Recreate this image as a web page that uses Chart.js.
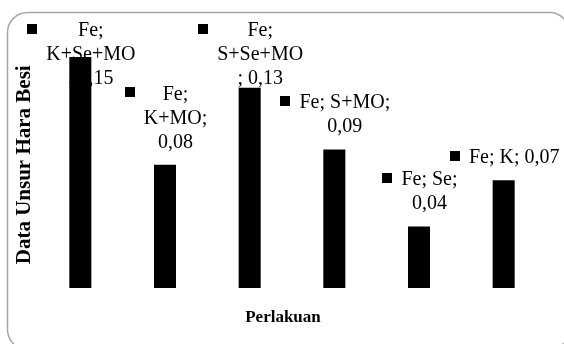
<!DOCTYPE html>
<html>
<head>
<meta charset="utf-8">
<script src="https://cdn.jsdelivr.net/npm/chart.js@4.4.1/dist/chart.umd.min.js"></script>
<style>
  html, body { margin: 0; padding: 0; background: #ffffff; }
  #wrap { width: 564px; height: 344px; }
</style>
</head>
<body>
<div id="wrap"><canvas id="chart" width="564" height="344"></canvas></div>
<script>
// Iron (Fe) nutrient content per treatment
const seriesName = 'Fe';
const treatments = ['K+Se+MO', 'K+MO', 'S+Se+MO', 'S+MO', 'Se', 'K'];
const feValues = [0.15, 0.08, 0.13, 0.09, 0.04, 0.07];
const yAxisTitle = 'Data Unsur Hara Besi';
const xAxisTitle = 'Perlakuan';

const SERIF = '"Liberation Serif", "Times New Roman", serif';
const LABEL_FONT = '20px ' + SERIF;
const LABEL_MAX_WIDTH = 91.1;
const LINE_H = 24;

function fmt(v) { return v.toFixed(2).replace('.', ','); }

// Greedy wrap: words first, overlong words split at the last character that still fits
function wrapText(ctx, text, maxW) {
  const words = text.split(' ');
  const lines = [];
  let cur = '';
  for (let i = 0; i < words.length; i++) {
    let w = words[i];
    const trial = cur ? cur + ' ' + w : w;
    if (ctx.measureText(trial).width <= maxW) { cur = trial; continue; }
    if (cur) { lines.push(cur); cur = ''; }
    while (ctx.measureText(w).width > maxW) {
      let k = w.length - 1;
      while (k > 1 && ctx.measureText(w.slice(0, k)).width > maxW) k--;
      lines.push(w.slice(0, k));
      w = w.slice(k);
    }
    cur = w;
  }
  if (cur) lines.push(cur);
  return lines;
}

// Data labels with a legend key square; drawn before the bars so bars sit on top
const keyLabels = {
  id: 'keyLabels',
  beforeDatasetsDraw(chart) {
    const ctx = chart.ctx;
    const meta = chart.getDatasetMeta(0);
    ctx.save();
    ctx.font = LABEL_FONT;
    ctx.fillStyle = '#000';
    ctx.textBaseline = 'middle';
    ctx.textAlign = 'center';
    meta.data.forEach((bar, i) => {
      const text = seriesName + '; ' + treatments[i] + '; ' + fmt(feValues[i]);
      const lines = wrapText(ctx, text, LABEL_MAX_WIDTH);
      const tw = Math.max(...lines.map(l => ctx.measureText(l).width));
      const sq = 10, gap = 9;
      const blockW = sq + gap + tw;
      const left = bar.x + 1 - blockW / 2;
      const textCx = left + sq + gap + tw / 2;
      let lastMid = bar.y - 22.5;
      let firstMid = lastMid - (lines.length - 1) * LINE_H;
      if (firstMid < 31) firstMid = 31;
      ctx.fillRect(Math.round(left), Math.round(firstMid - 2 - sq / 2), sq, sq);
      lines.forEach((l, j) => ctx.fillText(l, textCx, firstMid + j * LINE_H));
    });
    ctx.restore();
  }
};

// Category-axis title centred on the whole chart, plus the rounded frame
const frame = {
  id: 'frame',
  afterDraw(chart) {
    const ctx = chart.ctx;
    ctx.save();
    ctx.fillStyle = '#000';
    ctx.font = 'bold 17px ' + SERIF;
    ctx.textAlign = 'center';
    ctx.textBaseline = 'middle';
    ctx.fillText(xAxisTitle, chart.width / 2 + 1, 318);
    ctx.strokeStyle = '#a6a6a6';
    ctx.lineWidth = 1.5;
    ctx.beginPath();
    ctx.roundRect(7.5, 12.5, 562, 337, 20);
    ctx.stroke();
    ctx.restore();
  }
};

new Chart(document.getElementById('chart'), {
  type: 'bar',
  data: {
    labels: treatments,
    datasets: [{
      label: seriesName,
      data: feValues,
      backgroundColor: '#000000',
      borderWidth: 0,
      barPercentage: 0.26,
      categoryPercentage: 1.0
    }]
  },
  options: {
    responsive: false,
    devicePixelRatio: 1,
    animation: false,
    layout: { padding: { left: 8, right: 18, top: 41.6, bottom: 56 } },
    plugins: { legend: { display: false }, tooltip: { enabled: false } },
    scales: {
      x: {
        grid: { display: false, drawTicks: false },
        border: { display: false },
        ticks: { display: false },
        title: { display: false }
      },
      y: {
        min: 0, max: 0.16,
        grid: { display: false, drawTicks: false },
        border: { display: false },
        ticks: { display: false },
        title: {
          display: true, text: yAxisTitle, color: '#000',
          font: { family: SERIF, size: 21, weight: 'bold' },
          padding: { top: 4, bottom: 0.8 }
        }
      }
    }
  },
  plugins: [keyLabels, frame]
});
</script>
</body>
</html>
